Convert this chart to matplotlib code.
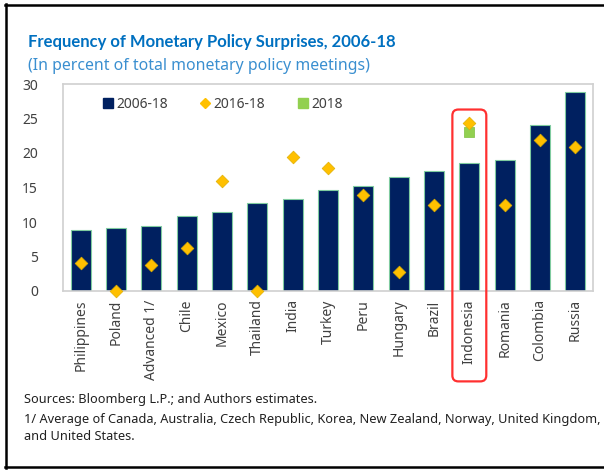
import matplotlib.pyplot as plt
from matplotlib.patches import FancyBboxPatch
from matplotlib.lines import Line2D

plt.rcParams['font.family'] = ['Noto Sans', 'DejaVu Sans']

paises = ['Philippines', 'Poland', 'Advanced 1/', 'Chile', 'Mexico', 'Thailand', 'India',
          'Turkey', 'Peru', 'Hungary', 'Brazil', 'Indonesia', 'Romania', 'Colombia', 'Russia']
val_2006_18 = [8.9, 9.1, 9.4, 10.9, 11.5, 12.7, 13.4, 14.6, 15.2, 16.5, 17.4, 18.5, 19.0, 24.0, 28.9]
val_2016_18 = [4.0, 0.0, 3.7, 6.2, 16.0, 0.0, 19.4, 17.8, 13.9, 2.8, 12.5, 24.4, 12.5, 21.9, 20.8]
pais_2018 = ['Indonesia']
val_2018 = [23.1]

azul = '#002060'
oro = '#FFC000'
verde = '#92D050'
gris_txt = '#404040'

fig = plt.figure(figsize=(6.04, 4.71), dpi=100)
ax = fig.add_axes([63/604, 1-291/471, 530/604, 207/471])

x = list(range(len(paises)))
ax.bar(x, val_2006_18, width=0.565, color=azul, edgecolor='#7FCBA0', linewidth=0.8,
       label='2006-18', zorder=2)
ax.scatter(x, val_2016_18, marker='D', s=42, color=oro, edgecolor='#E0B000', linewidth=0.5,
           label='2016-18', zorder=4, clip_on=False)
x_2018 = [paises.index(p) for p in pais_2018]
ax.scatter(x_2018, val_2018, marker='s', s=55, color=verde, edgecolor='#7CBF40', linewidth=0.5,
           label='2018', zorder=3)

ax.set_xlim(-0.5, 14.5)
ax.set_ylim(0, 30)
ax.set_yticks([0, 5, 10, 15, 20, 25, 30])
ax.set_xticks(x)
ax.set_xticklabels(paises, rotation=90, fontsize=10, color=gris_txt)
ax.tick_params(axis='y', length=0, labelsize=10, labelcolor=gris_txt, pad=18)
ax.tick_params(axis='x', length=0, pad=6)
for s in ax.spines.values():
    s.set_color('#D0D0D0')
    s.set_linewidth(1.2)

# leyenda
h = [Line2D([], [], marker='s', ls='', color=azul, markersize=7),
     Line2D([], [], marker='D', ls='', color=oro, markersize=5),
     Line2D([], [], marker='s', ls='', color=verde, markersize=7)]
ax.legend(h, ['2006-18', '2016-18', '2018'], ncol=3, frameon=False, loc='upper left',
          bbox_to_anchor=(0.05, 1.0), fontsize=10, handlelength=0.8, handletextpad=0.2,
          columnspacing=2.3, labelcolor=gris_txt)

# recuadro rojo alrededor de Indonesia
i_ind = paises.index('Indonesia')
caja = FancyBboxPatch((i_ind - 0.48, -13.1), 0.96, 39.4,
                      boxstyle='round,pad=0,rounding_size=0.17', mutation_aspect=5.1,
                      fill=False, edgecolor='#FF3030', linewidth=1.6, clip_on=False, zorder=5)
ax.add_patch(caja)

# titulos
fig.text(28/604, 1-42/471, 'Frequency of Monetary Policy Surprises, 2006-18', fontsize=12,
         fontweight='bold', family=['Lato', 'DejaVu Sans'], color='#0070C0', va='center')
fig.text(28/604, 1-66/471, '(In percent of total monetary policy meetings)', fontsize=11.4,
         color='#3A8FD0', va='center')

# notas
nota = dict(fontsize=9.2, color='#202020', va='center')
fig.text(24/604, 1-399/471, 'Sources: Bloomberg L.P.; and Authors estimates.', **nota)
fig.text(24/604, 1-419/471, '1/ Average of Canada, Australia, Czech Republic, Korea, New Zealand, '
         'Norway, United Kingdom,', **nota)
fig.text(24/604, 1-437/471, 'and United States.', **nota)

# marco negro
for xs, ys in [([5, 604], [5, 5]), ([6, 6], [4, 468]), ([5, 604], [467, 467])]:
    fig.add_artist(Line2D([v/604 for v in xs], [1 - v/471 for v in ys], color='black',
                          linewidth=1.8, transform=fig.transFigure))

plt.savefig('out.png', dpi=100)
